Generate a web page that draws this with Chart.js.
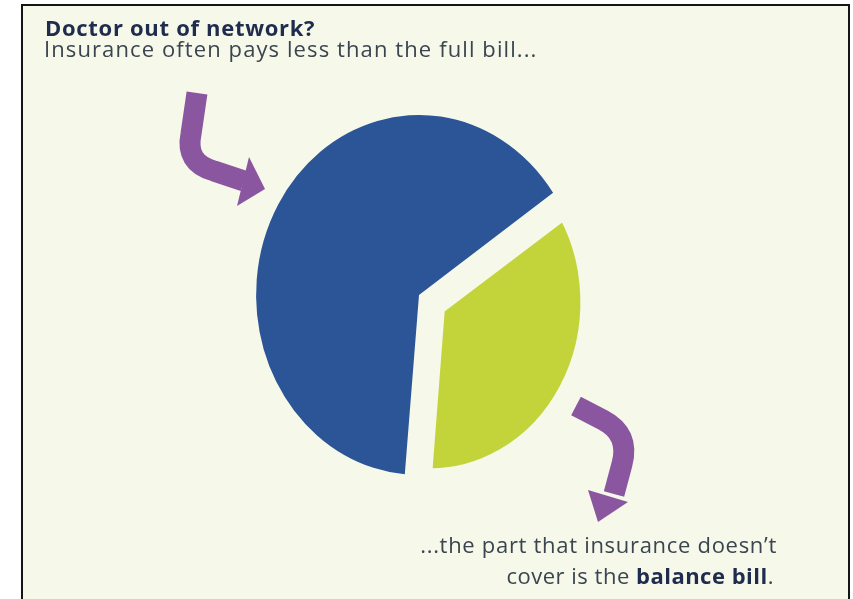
<!DOCTYPE html>
<html>
<head>
<meta charset="utf-8">
<script src="https://cdn.jsdelivr.net/npm/chart.js@4/dist/chart.umd.min.js"></script>
<style>
  html, body { margin: 0; padding: 0; background: #ffffff; width: 853px; height: 599px; overflow: hidden; }
  #frame { position: absolute; left: 21px; top: 4px; width: 825px; height: 640px; border: 2px solid #151515; background: #f6f8e9; }
  #c { position: absolute; left: 0; top: 0; }
  .t { position: absolute; font-family: "Open Sans", sans-serif; font-size: 22px; line-height: 22px; white-space: nowrap; }
  #title { left: 45px; top: 16px; font-weight: 700; color: #1f2c4e; letter-spacing: 0.7px; }
  #sub { left: 44px; top: 37px; color: #3b4550; letter-spacing: 1.1px; }
  #note1 { right: 76px; top: 533px; color: #3b4550; text-align: right; letter-spacing: 0.7px; }
  #note2 { right: 79px; top: 564px; color: #3b4550; text-align: right; letter-spacing: 0.5px; }
  #note2 b { color: #1f2c4e; font-weight: 700; }
</style>
</head>
<body>
<div id="frame"></div>
<canvas id="c" width="853" height="599"></canvas>
<div class="t" id="title">Doctor out of network?</div>
<div class="t" id="sub">Insurance often pays less than the full bill...</div>
<div class="t" id="note1">...the part that insurance doesn’t</div>
<div class="t" id="note2">cover is the <b>balance bill</b>.</div>
<script>
// Data (drawn in this order: balance bill first, insurance share second)
const categories = ['Balance bill', 'Insurance pays'];
const shares = [36, 64];
const sliceColors = ['#c3d43b', '#2b5597'];
const cream = '#f6f8e9';
const purple = '#8b56a0';

// squash the pie horizontally into the slight ellipse of the reference
const ellipsePlugin = {
  id: 'ellipse',
  beforeDatasetsDraw(chart) {
    const ctx = chart.ctx;
    const cx = (chart.chartArea.left + chart.chartArea.right) / 2;
    ctx.save();
    ctx.translate(cx, 0);
    ctx.scale(0.905, 1);
    ctx.translate(-cx, 0);
  },
  afterDatasetsDraw(chart) {
    chart.ctx.restore();
  }
};

// decorative curved arrows
const arrowPlugin = {
  id: 'arrows',
  afterDraw(chart) {
    const ctx = chart.ctx;
    ctx.save();
    ctx.strokeStyle = purple;
    ctx.fillStyle = purple;
    ctx.lineWidth = 21;
    ctx.lineJoin = 'round';
    ctx.lineCap = 'butt';
    // upper arrow
    ctx.beginPath();
    ctx.moveTo(197, 93);
    ctx.lineTo(191, 134);
    ctx.quadraticCurveTo(185, 163, 214, 171);
    ctx.lineTo(244, 181);
    ctx.stroke();
    ctx.beginPath();
    ctx.moveTo(249, 157);
    ctx.lineTo(265, 189);
    ctx.lineTo(237, 206);
    ctx.closePath();
    ctx.fill();
    // lower arrow
    ctx.beginPath();
    ctx.moveTo(576, 406);
    ctx.lineTo(603, 420);
    ctx.quadraticCurveTo(630, 434, 622, 464);
    ctx.lineTo(614, 494);
    ctx.stroke();
    ctx.beginPath();
    ctx.moveTo(588, 490);
    ctx.lineTo(628, 502);
    ctx.lineTo(598, 522);
    ctx.closePath();
    ctx.fill();
    ctx.restore();
  }
};

new Chart(document.getElementById('c'), {
  type: 'pie',
  data: {
    labels: categories,
    datasets: [{
      data: shares,
      backgroundColor: sliceColors,
      borderColor: cream,
      borderWidth: [34, 0],
      borderAlign: 'center',
      borderJoinStyle: 'round',
      offset: [56, 0],
      radius: 180
    }]
  },
  options: {
    responsive: false,
    animation: false,
    events: [],
    rotation: 55.4,
    layout: { padding: { left: 0, right: 15, top: 0, bottom: 9 } },
    plugins: {
      legend: { display: false },
      title: { display: false },
      tooltip: { enabled: false }
    }
  },
  plugins: [ellipsePlugin, arrowPlugin]
});
</script>
</body>
</html>
